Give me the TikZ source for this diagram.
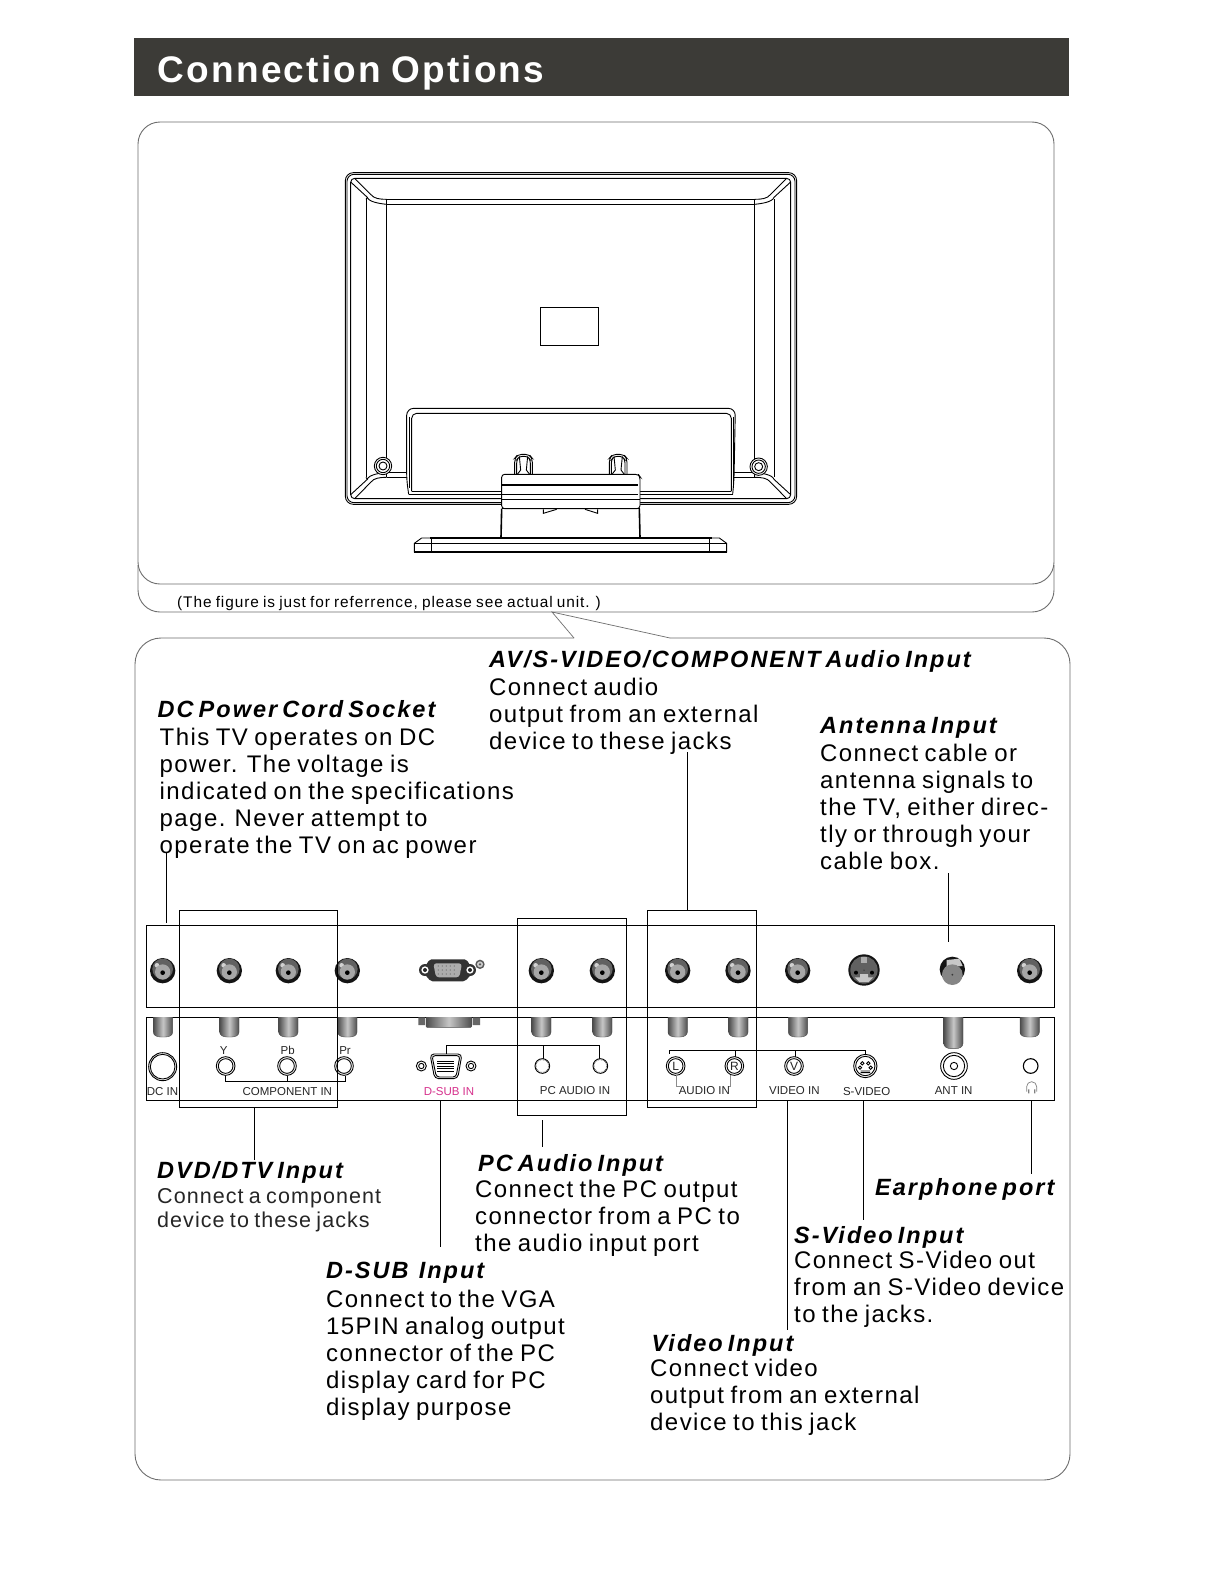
\documentclass[tikz,border=0pt]{standalone}
\usepackage{fontspec}
\setmainfont{Liberation Sans}
\newfontfamily\bodyf[LetterSpace=6,WordSpace=0.5]{Liberation Sans}
\newfontfamily\smallf[LetterSpace=5,WordSpace=0.75]{Liberation Sans}
\newfontfamily\headf[LetterSpace=8.5,WordSpace=0.6]{Liberation Sans}
\newfontfamily\titlef[LetterSpace=6,WordSpace=0.8]{Liberation Sans}
\newfontfamily\notef[LetterSpace=6,WordSpace=0.8]{Liberation Sans}
\newcommand{\fl}{\rule{0pt}{20.7pt}}
\newcommand{\fh}{\rule{0pt}{20pt}}
\definecolor{barc}{HTML}{3C3B37}
\definecolor{framec}{HTML}{6E6E6E}
\definecolor{magc}{HTML}{D6308C}
\tikzset{
  body/.style={anchor=north west,inner sep=0pt,align=left,text=black,font=\bodyf\fontsize{24}{27}\selectfont},
  smallbody/.style={anchor=north west,inner sep=0pt,align=left,text=black!85,font=\smallf\fontsize{21.5}{24}\selectfont},
  head/.style={anchor=north west,inner sep=0pt,align=left,font=\headf\bfseries\itshape\fontsize{23.5}{27}\selectfont},
  panel/.style={anchor=base,inner sep=0pt,font=\fontsize{11.5}{13}\selectfont,text=black!85},
  frameline/.style={draw=framec,line width=0.9pt},
  callout/.style={draw=black,line width=0.8pt},
  boxline/.style={draw=black,line width=1pt},
  fine/.style={draw=black,line width=0.9pt},
  thick line/.style={draw=black,line width=1.6pt},
  zoomA/.style={xshift=330pt,yshift=-160pt,x=0.33333pt,y=-0.33333pt},
  zoomB/.style={xshift=140pt,yshift=-900pt,x=0.33333pt,y=-0.33333pt},
  zoomC/.style={xshift=610pt,yshift=-900pt,x=0.33333pt,y=-0.33333pt},
  stub/.style={left color=black!70,right color=black!70,middle color=black!22,draw=black!70,line width=0.4pt,rounded corners=2.5pt},
}
% RCA jack in zoom units
\newcommand{\rca}[1]{%
  \fill[black!92] (#1,212) circle (38);
  \fill[black!62] (#1,207) circle (31);
  \fill[black!18] (#1-17,196) circle (7);
  \fill[black!35] (#1,216) circle (23);
  \fill[black] (#1,218) circle (7);
}
\newcommand{\stubat}[1]{%
  \shade[stub] (#1-29,340) -- (#1-29,404) -- (#1-15,411) -- (#1+15,411) -- (#1+29,404) -- (#1+29,340);
}
\begin{document}
\begin{tikzpicture}[x=1pt,y=-1pt]
\useasboundingbox (0,0) rectangle (1219,1582);
\fill[white] (0,0) rectangle (1219,1582);
% title bar
\fill[barc] (134,38) rectangle (1069,96);
\node[anchor=base west,inner sep=0pt,text=white,font=\titlef\bfseries\fontsize{37}{40}\selectfont] (title) at (157.5,82) {Connection Options};
% frames
\draw[frameline,rounded corners=22pt] (138,122) rectangle (1054,584);
\draw[frameline,rounded corners=22pt] (138,565) -- (138,612) -- (1054,612) -- (1054,565);
\coordinate (tailtop) at (552,612);
\coordinate (tailL) at (574,638);
\coordinate (tailR) at (670,638);
\draw[frameline,line width=0.7pt] (tailL) -- (tailtop) -- (tailR);
\draw[frameline,rounded corners=26pt] (tailR) -- (1070,638) -- (1070,1480) -- (135,1480) -- (135,638) -- (tailL);
\node[anchor=base west,inner sep=0pt,font=\notef\fontsize{15.4}{18}\selectfont] (note) at (177,607) {(The figure is just for referrence, please see actual unit. )};
% monitor
\begin{scope}[zoomA]
\draw[fine,rounded corners=8pt] (46,38) rectangle (1400,1033);
\draw[fine,rounded corners=7pt] (51,43) rectangle (1395,1028);
\draw[fine,rounded corners=4pt] (62,55) rectangle (1382,1016);
% inner back
\draw[fine] (170,118) -- (1274,118) (170,133) -- (1274,133);
\draw[fine] (108,118) -- (108,952) (1334,118) -- (1334,952);
\draw[fine] (170,118) -- (170,952) (1274,118) -- (1274,952);
% corners
\draw[fine] (74,55) -- (123,104) .. controls (132,116) and (150,118) .. (170,118);
\draw[fine] (62,66) -- (112,112) .. controls (116,126) and (150,131) .. (170,133) (108,118) -- (112,112);
\draw[fine] (1370,55) -- (1321,104) .. controls (1312,116) and (1294,118) .. (1274,118);
\draw[fine] (1382,66) -- (1332,112) .. controls (1328,126) and (1294,131) .. (1274,133);
\draw[fine] (74,1016) -- (123,966) .. controls (132,954) and (150,952) .. (170,952);
\draw[fine] (62,1004) -- (112,958) .. controls (116,944) and (150,939) .. (170,937) (108,952) -- (112,958);
\draw[fine] (1370,1016) -- (1321,966) .. controls (1312,954) and (1294,952) .. (1274,952);
\draw[fine] (1382,1004) -- (1332,958) .. controls (1328,944) and (1294,939) .. (1274,937);
\draw[fine] (170,937) -- (235,937) (170,952) -- (235,952) (1205,937) -- (1274,937) (1205,952) -- (1274,952);
% stand cover
\draw[fine,fill=white,rounded corners=7pt] (236,1003) -- (230,960) -- (230,745) -- (1216,745) -- (1212,960) -- (1208,1003);
\draw[fine,rounded corners=5pt] (245,994) -- (245,760) -- (1204,760) -- (1204,994);
\draw[fine] (236,1003) -- (1208,1003) (245,994) -- (1204,994);
\draw[fine] (237,770) -- (237,985) (1210,770) -- (1210,985);
\draw[fine] (631,441) rectangle (806,556);
% screws
\foreach \c in {(159,918),(1286,920)}{
  \draw[fine,fill=white] \c circle (26);
  \draw[fine] \c circle (20);
  \draw[fine] \c circle (12);
}
% hinges
\foreach \h in {554,838}{
  \draw[fine,fill=white,rounded corners=4pt] (\h,943) -- (\h,895) -- (\h+10,883) -- (\h+43,883) -- (\h+53,895) -- (\h+53,943);
  \draw[fine,rounded corners=3pt] (\h+6,943) -- (\h+6,900) -- (\h+14,889) -- (\h+39,889) -- (\h+47,900) -- (\h+47,943);
  \draw[fine] (\h+14,889) -- (\h+18,930) -- (\h+8,943) (\h+39,889) -- (\h+35,930) -- (\h+45,943);
}
% neck
\draw[fine,fill=white,rounded corners=3pt] (515,1046) -- (515,943) -- (925,943) -- (930,950) -- (930,1046) -- cycle;
\draw[thick line] (515,975) -- (925,975);
\draw[fine] (515,1004) -- (925,1004) (515,1018) -- (930,1018);
\draw[thick line] (515,1046) -- (930,1046);
\draw[thick line] (515,1046) -- (513,1132) (928,1046) -- (930,1132);
\draw[fine] (640,1048) -- (640,1060) -- (680,1048) (803,1048) -- (803,1060) -- (765,1048);
% base
\draw[fine,fill=white] (253,1150) -- (275,1134) -- (1168,1134) -- (1190,1150) -- (1190,1176) -- (253,1176) -- cycle;
\draw[thick line] (300,1134) -- (1145,1134) (253,1176) -- (1190,1176);
\draw[fine] (253,1150) -- (1190,1150) (305,1134) -- (305,1176) (1138,1134) -- (1138,1176);
\draw[fine] (450,1131) -- (995,1131);
\end{scope}
% upper and lower strip
\draw[boxline] (146.3,925.3) rectangle (1054.3,1007.3);
\draw[boxline] (146.3,1017.3) rectangle (1054.3,1100.3);
% left part
\begin{scope}[zoomB]
\begin{scope}
\clip (0,352) rectangle (1600,420);
\foreach \p in {69,268,445,622,1204,1387} {\stubat{\p}}
\shade[stub,rounded corners=1pt] (858,340) -- (858,382) -- (995,382) -- (995,340);
\fill[black!60] (835,352) rectangle (855,375) (998,352) rectangle (1020,375);
\end{scope}
\foreach \p in {68,268,445,622,1204,1387} {\rca{\p}}
% VGA jack
\fill[black!80,rounded corners=2pt] (845,212) -- (862,190) -- (868,178) -- (980,178) -- (986,190) -- (1003,212) -- (986,232) -- (975,244) -- (872,244) -- (862,232) -- cycle;
\foreach \c in {855,990} {\fill[black!80] (\c,210) circle (18); \fill[white] (\c,210) circle (11); \fill[black!85] (\c,210) circle (6);}
\fill[black!32,rounded corners=3pt] (880,190) -- (966,190) -- (958,232) -- (888,232) -- cycle;
\fill[black!65] (1020,193) circle (14);
\fill[black!20] (1020,193) circle (9);
\fill[black!65] (1020,193) circle (4);
\foreach \ya in {198,210,222} {\foreach \xa in {895,907,...,950} {\fill[black!60] (\xa,\ya) circle (1.8);}}
% lower sockets
\draw[fine] (68,500) circle (42) (68,500) circle (37);
\foreach \p in {257,441,612}{\draw[fine,fill=white] (\p,498) circle (28); \draw[fine] (\p,498) circle (22);}
\draw[fine] (255,527) -- (255,544) -- (617,544) -- (617,527) (443,527) -- (443,544);
\node[panel] (ly) at (251,463) {Y};
\node[panel] (lpb) at (443,463) {Pb};
\node[panel] (lpr) at (615,463) {Pr};
\node[panel,anchor=base west] (ldc) at (20,585) {DC IN};
\node[panel] (lcomp) at (442,585) {COMPONENT IN};
\node[panel,text=magc] (lsub) at (927,585) {D-SUB IN};
\node[panel] (lpca) at (1305,582) {PC AUDIO IN};
% VGA socket
\draw[fine,rounded corners=4pt] (870,462) -- (966,462) -- (953,536) -- (884,536) -- cycle;
\draw[fine,rounded corners=3pt] (876,467) -- (960,467) -- (948,531) -- (889,531) -- cycle;
\foreach \ya in {484,491.5,499,506.5,514}{\draw[black,line width=0.9pt] (892,\ya) -- (943,\ya);}
\foreach \c in {844,993}{\draw[fine] (\c,498) circle (15); \draw[fine] (\c,498) circle (8);}
\draw[fine] (918,462) -- (918,436) -- (1378,436) -- (1378,476) (1210,436) -- (1210,476);
\foreach \p in {1207,1381}{\draw[fine,fill=white] (\p,498) circle (22); \draw[black!70,densely dotted,line width=0.7pt] (\p,498) circle (19);}
\end{scope}
% right part
\begin{scope}[zoomC]
\begin{scope}
\clip (0,352) rectangle (1300,460);
\foreach \p in {203,385,564,1259} {\stubat{\p}}
\shade[stub] (1001,340) -- (1001,438) -- (1015,446) -- (1045,446) -- (1059,438) -- (1059,340);
\end{scope}
\foreach \p in {203,384,563,1259} {\rca{\p}}
% s-video jack
\fill[black!92] (762,210) circle (47);
\fill[black!62] (762,210) circle (41);
\fill[black!32] (752,172) rectangle (772,188);
\fill[black!22] (750,222) -- (774,222) -- (774,232) -- (790,232) -- (776,246) -- (748,246) -- (734,232) -- (750,232) -- cycle;
\fill[black] (738,218) circle (6) (786,218) circle (6) (762,210) circle (1.5);
% antenna jack
\fill[black!92] (1027,208) circle (38);
\fill[black!22] (1010,180) -- (1048,176) -- (1058,198) -- (1010,203) -- cycle;
\fill[black!48] (1027,224) circle (31);
\fill[black!78] (1027,224) circle (3);
% sockets
\draw[fine] (178,462) -- (178,452) -- (766,452) -- (766,466) (376,452) -- (376,472) (556,452) -- (556,472);
\foreach \p/\t in {197/L,373/R,552/V}{
  \draw[fine,fill=white] (\p,498) circle (28);
  \draw[fine] (\p,498) circle (22);
  \node[panel,font=\fontsize{12}{13}\selectfont] (s\t) at (\p,510) {\t};
}
\draw[draw=black!45,line width=0.8pt] (198,526) -- (198,560) -- (212,560) (362,526) -- (362,560) -- (354,560);
\draw[fine,fill=white] (766,498) circle (35);
\draw[fine] (766,498) circle (29);
\draw[fine] (757,490) circle (5) (775,490) circle (5) (750,503) circle (5) (782,503) circle (5) (752,518) -- (780,518) (752,513) -- (780,513);
\draw[fine] (1032,498) circle (40) (1032,498) circle (32) (1032,498) circle (11);
\draw[fine,line width=1.1pt] (1262,498) circle (22);
\draw[black!50,line width=0.7pt] (1250,575) -- (1250,560) arc[start angle=180,end angle=360,radius=15] -- (1280,575);
\fill[black!50] (1254,568) rectangle (1258,580) (1272,568) rectangle (1276,580);
\node[panel] (laud) at (283,582) {AUDIO IN};
\node[panel] (lvid) at (553,582) {VIDEO IN};
\node[panel] (lsv) at (770,585) {S-VIDEO};
\node[panel] (lant) at (1031,582) {ANT IN};
\end{scope}
% highlight boxes
\draw[boxline] (179.3,910.3) rectangle (337.3,1107.3);
\draw[boxline] (517.3,918.3) rectangle (626.3,1115.3);
\draw[boxline] (647.3,910.3) rectangle (756.3,1107.3);
% texts
\node[head] (h1) at (489,647) {\fh AV/S-VIDEO/COMPONENT Audio Input};
\node[body] (b1) at (489,675) {\fl Connect audio\\output from an external\\device to these jacks};
\node[head] (h2) at (157.5,697) {\fh DC Power Cord Socket};
\node[body] (b2) at (159.5,725) {\fl This TV operates on DC\\power. The voltage is\\indicated on the specifications\\page. Never attempt to\\operate the TV on ac power};
\node[head] (h3) at (820,713) {\fh Antenna Input};
\node[body] (b3) at (820,741) {\fl Connect cable or\\antenna signals to\\the TV, either direc-\\tly or through your\\cable box.};
\node[head] (h4) at (157,1158) {\fh DVD/DTV Input};
\node[smallbody] (b4) at (157,1183) {\fl Connect a component\\device to these jacks};
\node[head] (h5) at (478,1151) {\fh PC Audio Input};
\node[body] (b5) at (475,1177) {\fl Connect the PC output\\connector from a PC to\\the audio input port};
\node[head] (h6) at (326,1258) {\fh D-SUB\ \ Input};
\node[body] (b6) at (326,1287) {\fl Connect to the VGA\\15PIN analog output\\connector of the PC\\display card for PC\\display purpose};
\node[head] (h7) at (875,1175) {\fh Earphone port};
\node[head] (h8) at (794,1223) {\fh S-Video Input};
\node[body] (b8) at (794,1248) {\fl Connect S-Video out\\from an S-Video device\\to the jacks.};
\node[head] (h9) at (651.5,1331) {\fh Video Input};
\node[body] (b9) at (650,1356) {\fl Connect video\\output from an external\\device to this jack};
% connectors
\coordinate (c1a) at (166.5,853); \coordinate (c1b) at (166.5,923);
\coordinate (c2a) at (687.7,752); \coordinate (c2b) at (687.7,910.3);
\coordinate (c3a) at (948.5,873); \coordinate (c3b) at (948.5,942);
\coordinate (c4a) at (254,1107.3); \coordinate (c4b) at (254,1160);
\coordinate (c5a) at (440,1100.3); \coordinate (c5b) at (440,1247);
\coordinate (c6a) at (542,1120); \coordinate (c6b) at (542,1147);
\coordinate (c7a) at (787.5,1100.3); \coordinate (c7b) at (787.5,1330);
\coordinate (c8a) at (863,1100.3); \coordinate (c8b) at (863,1220);
\coordinate (c9a) at (1031,1100.3); \coordinate (c9b) at (1031,1174);
\foreach \i in {1,...,9}{\draw[callout] (c\i a) -- (c\i b);}
\end{tikzpicture}
\end{document}
